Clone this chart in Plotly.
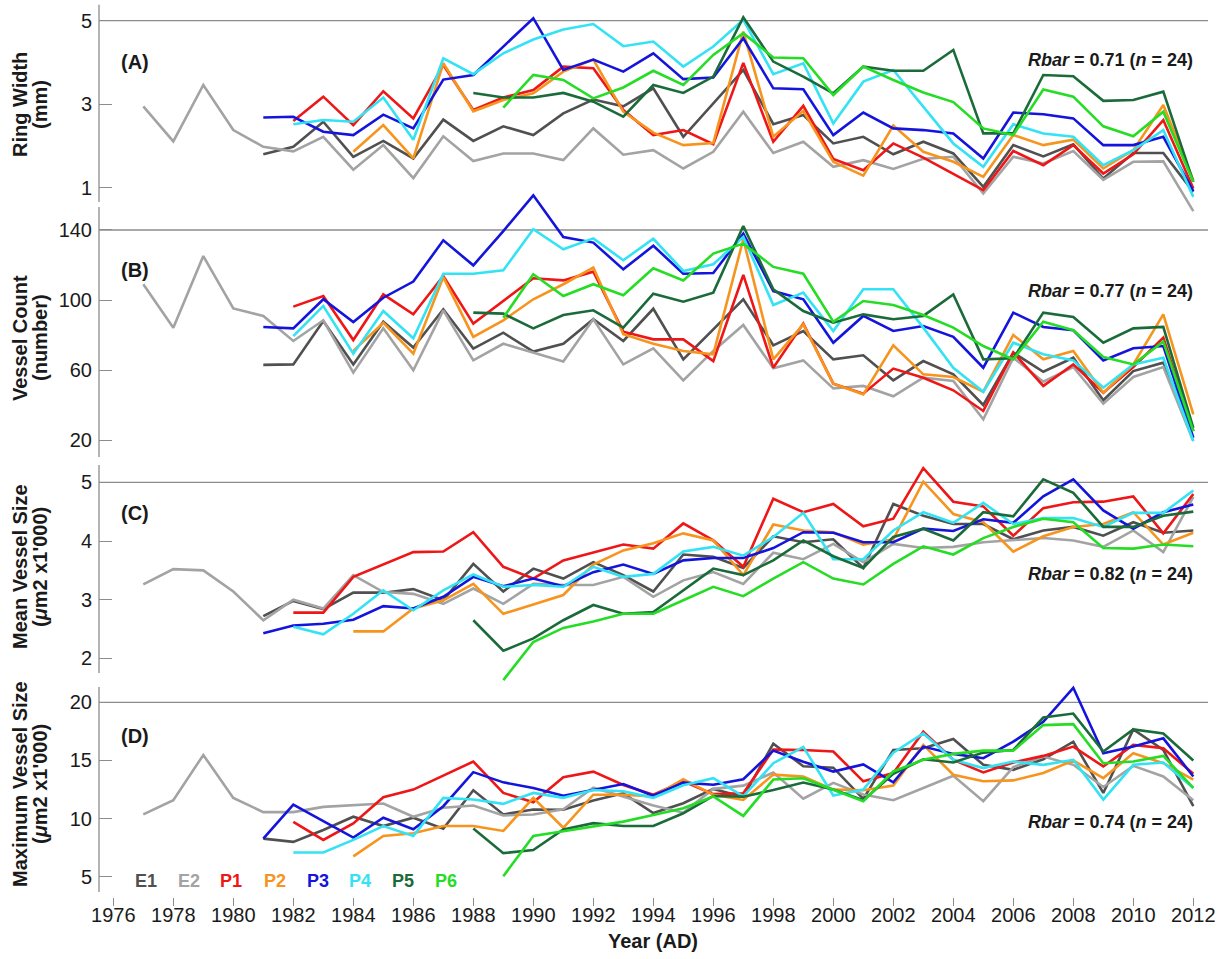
import plotly.graph_objects as go

# ---------------- data ----------------
SERIES = ["E1", "E2", "P1", "P2", "P3", "P4", "P5", "P6"]
START_YEAR = [1981, 1977, 1982, 1984, 1981, 1982, 1988, 1989]
END_YEAR = 2012
COLORS = ["#505050", "#a3a3a3", "#ee1616", "#f7941e", "#1414dc", "#33e3f3", "#1b6b3a", "#24dd24"]

PANEL_LABELS = ["(A)", "(B)", "(C)", "(D)"]
Y_TITLES = [("Ring Width", "(mm)"), ("Vessel Count", "(number)"),
            ("Mean Vessel Size", "(<i>μ</i>m2 x1'000)"), ("Maximum Vessel Size", "(<i>μ</i>m2 x1'000)")]
RBAR = [0.71, 0.77, 0.82, 0.74]
N_TREES = [24, 24, 24, 24]
Y_TICKS = [[1, 3, 5], [20, 60, 100, 140], [2, 3, 4, 5], [5, 10, 15, 20]]
X_TICKS = list(range(1976, 2013, 2))

# Panel A: ring width (mm)
A_E1 = [1.80, 1.98, 2.58, 1.74, 2.12, 1.70, 2.63, 2.12, 2.47, 2.26, 2.78, 3.11, 2.95, 3.38, 2.22, 3.02,
        3.82, 2.52, 2.74, 2.06, 2.22, 1.80, 2.10, 1.82, 1.02, 2.02, 1.75, 2.04, 1.22, 1.83, 1.83, 0.90]
A_E2 = [2.95, 2.11, 3.46, 2.38, 1.98, 1.87, 2.22, 1.43, 2.02, 1.23, 2.23, 1.64, 1.82, 1.82, 1.66, 2.42,
        1.79, 1.90, 1.46, 1.86, 2.82, 1.83, 2.10, 1.50, 1.66, 1.45, 1.69, 1.74, 0.86, 1.74, 1.58, 1.88,
        1.19, 1.62, 1.63, 0.44]
A_P1 = [2.60, 3.18, 2.50, 3.31, 2.66, 3.94, 2.86, 3.16, 3.34, 3.90, 3.86, 2.86, 2.26, 2.38, 2.04, 3.99,
        2.10, 2.96, 1.69, 1.42, 2.06, 1.72, 1.33, 0.94, 1.88, 1.54, 2.02, 1.34, 1.80, 2.62, 0.98]
A_P2 = [1.86, 2.50, 1.70, 3.98, 2.83, 3.10, 3.26, 3.78, 4.07, 2.82, 2.32, 2.02, 2.07, 4.74, 2.22, 2.84,
        1.62, 1.29, 2.49, 1.86, 1.62, 1.26, 2.26, 2.02, 2.15, 1.46, 1.90, 2.98, 1.18]
A_P3 = [2.68, 2.70, 2.34, 2.26, 2.75, 2.42, 3.59, 3.70, 4.38, 5.06, 3.82, 4.07, 3.78, 4.22, 3.60, 3.64,
        4.58, 3.38, 3.36, 2.26, 2.80, 2.42, 2.38, 2.30, 1.70, 2.80, 2.76, 2.66, 2.02, 2.02, 2.22, 0.92]
A_P4 = [2.52, 2.62, 2.58, 3.16, 2.15, 4.10, 3.72, 4.22, 4.55, 4.79, 4.92, 4.39, 4.50, 3.90, 4.38, 5.02,
        3.72, 3.98, 2.54, 3.54, 3.82, 2.94, 2.06, 1.50, 2.52, 2.30, 2.22, 1.54, 1.90, 2.38, 0.78]
A_P5 = [3.27, 3.16, 3.16, 3.27, 3.06, 2.70, 3.46, 3.27, 3.66, 5.08, 4.02, 3.66, 3.26, 3.90, 3.80, 3.80,
        4.30, 2.30, 2.30, 3.70, 3.67, 3.08, 3.10, 3.30, 1.14]
A_P6 = [2.92, 3.70, 3.58, 3.14, 3.40, 3.80, 3.46, 4.18, 4.70, 4.12, 4.10, 3.22, 3.90, 3.58, 3.28, 3.05,
        2.42, 2.26, 3.35, 3.18, 2.47, 2.23, 2.82, 1.14]

# Panel B: vessel count (number)
B_E1 = [62.9, 63.2, 88.0, 63.2, 87.6, 72.8, 94.7, 72.2, 81.3, 70.5, 75.0, 89.0, 76.6, 95.0, 66.1, 83.2,
        100.4, 74.1, 82.3, 66.1, 68.4, 54.1, 65.1, 57.5, 40.0, 69.9, 59.0, 67.0, 42.7, 59.4, 64.2, 25.1]
B_E2 = [109.0, 84.2, 125.1, 95.2, 90.9, 76.6, 88.4, 58.5, 83.8, 59.8, 94.1, 65.5, 75.0, 69.9, 64.8, 89.0,
        63.2, 72.4, 54.1, 70.9, 85.7, 61.0, 65.5, 49.5, 50.9, 45.0, 55.6, 53.7, 31.8, 67.0, 53.3, 61.7,
        40.8, 56.0, 61.7, 19.4]
B_P1 = [96.2, 102.3, 77.1, 103.2, 91.8, 113.7, 86.5, 99.4, 112.4, 111.2, 116.2, 81.9, 77.5, 77.5, 65.1,
        114.3, 61.3, 86.5, 52.2, 46.5, 60.8, 55.6, 48.4, 36.6, 70.0, 50.9, 63.2, 47.0, 61.7, 78.5, 25.1]
B_P2 = [70.9, 87.0, 69.3, 113.1, 78.9, 88.4, 100.4, 109.0, 118.5, 80.4, 75.0, 70.9, 69.0, 134.7, 66.1,
        86.1, 52.2, 46.1, 74.1, 57.5, 56.0, 47.6, 80.0, 66.1, 70.9, 47.0, 63.2, 91.8, 34.7]
B_P3 = [84.6, 83.8, 100.4, 87.4, 101.3, 110.5, 134.1, 119.8, 139.4, 159.8, 136.0, 132.8, 117.5, 131.0,
        115.0, 115.4, 137.9, 105.1, 100.4, 75.6, 90.9, 82.3, 85.1, 79.0, 61.3, 92.8, 84.6, 82.7, 65.5,
        72.4, 73.7, 21.3]
B_P4 = [79.4, 96.6, 69.3, 93.7, 78.1, 115.0, 115.0, 117.0, 140.4, 129.0, 135.2, 122.7, 135.0, 116.6,
        120.4, 136.0, 97.1, 104.2, 82.3, 106.1, 106.1, 84.2, 61.3, 47.6, 75.6, 69.0, 65.5, 49.9, 63.2,
        67.0, 19.4]
B_P5 = [92.8, 92.2, 83.8, 91.4, 94.1, 84.2, 103.6, 99.0, 104.2, 142.3, 106.1, 93.7, 87.0, 91.8, 89.0,
        90.9, 103.2, 66.1, 66.7, 92.8, 90.3, 75.6, 83.8, 84.6, 27.0]
B_P6 = [89.9, 114.7, 102.3, 109.0, 102.7, 118.1, 111.2, 126.5, 132.2, 118.9, 115.0, 87.6, 99.4, 97.1,
        91.4, 84.2, 73.7, 66.1, 87.6, 82.7, 67.4, 63.2, 76.2, 25.1]

# Panel C: mean vessel size (um2 x1000)
C_E1 = [2.72, 2.98, 2.84, 3.12, 3.12, 3.18, 2.99, 3.61, 3.14, 3.53, 3.36, 3.64, 3.42, 3.14, 3.77, 3.73,
        3.54, 4.08, 3.98, 4.03, 3.54, 4.63, 4.43, 4.29, 4.29, 4.03, 4.18, 4.24, 4.09, 4.32, 4.14, 4.18]
C_E2 = [3.26, 3.52, 3.50, 3.14, 2.65, 3.00, 2.85, 3.42, 3.13, 3.10, 2.93, 3.19, 2.93, 3.27, 3.25, 3.25,
        3.39, 3.05, 3.33, 3.47, 3.27, 3.80, 3.69, 3.95, 3.64, 3.95, 3.88, 3.90, 3.98, 4.01, 4.05, 4.01,
        3.90, 4.18, 3.81, 4.75]
C_P1 = [2.78, 2.78, 3.39, 3.60, 3.81, 3.82, 4.15, 3.56, 3.36, 3.67, 3.80, 3.94, 3.87, 4.30, 4.01, 3.56,
        4.72, 4.49, 4.63, 4.25, 4.38, 5.24, 4.67, 4.59, 4.09, 4.56, 4.66, 4.67, 4.76, 4.13, 4.80]
C_P2 = [2.46, 2.46, 2.85, 2.99, 3.27, 2.76, 2.92, 3.08, 3.60, 3.84, 3.96, 4.13, 4.01, 3.42, 4.28, 4.18,
        4.15, 3.94, 4.03, 5.01, 4.46, 4.32, 3.82, 4.08, 4.24, 4.29, 4.49, 3.94, 4.14]
C_P3 = [2.43, 2.56, 2.59, 2.66, 2.89, 2.85, 3.05, 3.39, 3.23, 3.36, 3.23, 3.47, 3.60, 3.44, 3.67, 3.71,
        3.71, 3.88, 4.15, 4.14, 3.98, 3.98, 4.21, 4.17, 4.37, 4.31, 4.76, 5.05, 4.52, 4.21, 4.49, 4.62]
C_P4 = [2.54, 2.41, 2.76, 3.16, 2.82, 3.16, 3.43, 3.22, 3.25, 3.22, 3.56, 3.39, 3.44, 3.82, 3.90, 3.75,
        4.07, 4.48, 3.69, 3.69, 4.18, 4.49, 4.31, 4.65, 4.29, 4.39, 4.39, 4.24, 4.48, 4.48, 4.86]
C_P5 = [2.65, 2.13, 2.34, 2.65, 2.91, 2.76, 2.79, 3.16, 3.53, 3.42, 3.67, 4.01, 3.74, 3.54, 4.07, 4.21,
        4.01, 4.49, 4.42, 5.05, 4.82, 4.24, 4.24, 4.43, 4.50]
C_P6 = [1.63, 2.28, 2.52, 2.63, 2.76, 2.76, 2.99, 3.22, 3.06, 3.36, 3.64, 3.36, 3.26, 3.61, 3.91, 3.77,
        4.05, 4.24, 4.38, 4.32, 3.88, 3.87, 3.94, 3.91]

# Panel D: maximum vessel size (um2 x1000)
D_E1 = [8.27, 7.99, 9.01, 10.15, 9.35, 10.07, 9.13, 12.43, 10.35, 10.78, 10.75, 11.55, 12.17, 10.47,
        11.31, 12.55, 11.86, 16.44, 14.50, 14.37, 11.69, 15.90, 16.04, 16.84, 14.62, 14.19, 15.10, 16.61,
        12.20, 17.67, 15.90, 11.06]
D_E2 = [10.35, 11.57, 15.47, 11.77, 10.55, 10.55, 11.00, 11.12, 11.29, 10.15, 10.92, 11.12, 10.26, 10.35,
        10.80, 12.65, 11.88, 11.12, 10.50, 12.55, 12.83, 13.95, 11.70, 13.07, 12.06, 11.57, 12.63, 13.68,
        11.49, 14.42, 15.33, 14.62, 12.71, 14.53, 13.62, 11.57]
D_P1 = [9.70, 8.16, 9.58, 11.83, 12.49, 13.71, 14.90, 12.20, 11.40, 13.56, 14.03, 12.88, 12.04, 13.20,
        12.10, 12.17, 15.93, 15.90, 15.76, 13.20, 13.91, 17.47, 15.05, 13.97, 14.82, 15.39, 16.19, 14.48,
        16.33, 16.04, 13.85]
D_P2 = [6.74, 8.50, 8.73, 9.35, 9.35, 8.93, 11.77, 9.20, 12.05, 12.04, 11.90, 13.38, 12.04, 11.60, 13.78,
        13.62, 12.49, 12.43, 12.83, 16.33, 13.77, 13.20, 13.28, 13.91, 14.99, 13.48, 15.62, 14.76, 13.34]
D_P3 = [8.27, 11.20, 9.78, 8.36, 10.07, 9.07, 11.06, 13.99, 13.11, 12.63, 11.96, 12.47, 12.97, 11.96,
        13.09, 12.90, 13.38, 15.84, 14.89, 14.04, 14.65, 13.11, 16.19, 15.56, 15.19, 16.61, 18.32, 21.25,
        15.62, 16.19, 16.90, 13.62]
D_P4 = [7.08, 7.08, 8.16, 9.35, 8.50, 11.77, 11.63, 11.26, 12.20, 11.78, 12.45, 12.35, 11.78, 12.86,
        13.47, 11.90, 14.76, 16.16, 11.98, 12.50, 15.67, 17.32, 15.05, 14.34, 14.90, 14.62, 15.05, 11.63,
        14.62, 14.82, 12.63]
D_P5 = [9.15, 7.02, 7.28, 9.05, 9.60, 9.36, 9.36, 10.45, 11.94, 11.88, 12.45, 13.10, 12.50, 11.57, 13.85,
        15.10, 14.82, 15.67, 15.90, 18.69, 19.03, 15.76, 17.67, 17.32, 14.99]
D_P6 = [5.03, 8.50, 8.90, 9.29, 9.73, 10.30, 10.88, 11.90, 10.22, 13.35, 13.46, 12.47, 11.49, 14.05,
        15.05, 15.56, 15.84, 15.84, 18.04, 18.12, 14.76, 14.90, 15.39, 12.63]

PANELS = [
    [A_E1, A_E2, A_P1, A_P2, A_P3, A_P4, A_P5, A_P6],
    [B_E1, B_E2, B_P1, B_P2, B_P3, B_P4, B_P5, B_P6],
    [C_E1, C_E2, C_P1, C_P2, C_P3, C_P4, C_P5, C_P6],
    [D_E1, D_E2, D_P1, D_P2, D_P3, D_P4, D_P5, D_P6],
]

# ---------------- layout geometry (pixels) ----------------
W, H = 1228, 959
ML, MR, MT, MB = 99, 20, 0, 62
PW = W - ML - MR
PH = H - MT - MB


def py(ypx):
    return (PH - (ypx - MT)) / PH


def px(xpx):
    return (xpx - ML) / PW


# clipping domains (px) and matching ranges
DOM_PX = [(2, 218), (185, 462), (455, 690), (675, 897)]
RANGES = [(0.274, 5.448), (7.43, 165.71), (1.462, 5.465), (3.244, 22.35)]
AXLINE = [(0.657, 5.38), (10.29, 153.1), (1.751, 5.295), (3.67, 21.32)]
TOPVAL = [5, 140, 5, 20]
LABEL_Y = [62, 270, 513, 736]
RBAR_Y = [60, 291, 574, 822]
TITLE_Y = [105, 338, 567, 784]

FONT = "Liberation Sans, Arial, Helvetica, sans-serif"
AXC = "#8c8c8c"
TXT = "#1a1a1a"

fig = go.Figure()

for p, panel in enumerate(PANELS):
    yname = "y" if p == 0 else f"y{p + 1}"
    for s, vals in enumerate(panel):
        years = list(range(START_YEAR[s], END_YEAR + 1))
        fig.add_trace(go.Scatter(
            x=years, y=vals, mode="lines", name=SERIES[s],
            line=dict(color=COLORS[s], width=2.6), xaxis="x", yaxis=yname,
            showlegend=False, hoverinfo="skip"))

layout = dict(
    width=W, height=H,
    margin=dict(l=ML, r=MR, t=MT, b=MB),
    paper_bgcolor="white", plot_bgcolor="rgba(0,0,0,0)",
    font=dict(family=FONT, color=TXT, size=20),
    xaxis=dict(range=[1975.523, 2012.49], domain=[0, 1], anchor="y4",
               tickvals=X_TICKS, ticks="outside", ticklen=8, tickwidth=1.2, tickcolor=AXC,
               showline=False, showgrid=False, zeroline=False,
               tickfont=dict(size=20, color=TXT), ticklabelstandoff=-8),
)

shapes = []
annotations = []
for p in range(4):
    key = "yaxis" if p == 0 else f"yaxis{p + 1}"
    yref = "y" if p == 0 else f"y{p + 1}"
    top_px, bot_px = DOM_PX[p]
    layout[key] = dict(
        domain=[py(bot_px), py(top_px)], range=list(RANGES[p]), anchor="x",
        tickvals=Y_TICKS[p], ticks="inside", ticklen=13, tickwidth=1.2, tickcolor=AXC,
        showline=False, showgrid=False, zeroline=False,
        tickfont=dict(size=20, color=TXT), ticklabelstandoff=6)
    # vertical axis segment
    shapes.append(dict(type="line", xref="paper", yref=yref, x0=0, x1=0,
                       y0=AXLINE[p][0], y1=AXLINE[p][1], line=dict(color=AXC, width=1.3), layer="below"))
    # top frame line
    shapes.append(dict(type="line", xref="paper", yref=yref, x0=0, x1=1,
                       y0=TOPVAL[p], y1=TOPVAL[p], line=dict(color=AXC, width=1.3), layer="below"))
    # panel label
    annotations.append(dict(xref="paper", yref="paper", x=px(119), y=py(LABEL_Y[p]),
                            xanchor="left", yanchor="middle", showarrow=False,
                            text=f"<b>{PANEL_LABELS[p]}</b>", font=dict(size=20, color=TXT)))
    # Rbar
    annotations.append(dict(xref="paper", yref="paper", x=px(1195), y=py(RBAR_Y[p]),
                            xanchor="right", yanchor="middle", showarrow=False,
                            text=f"<b><i>Rbar</i> = {RBAR[p]:.2f} (<i>n</i> = {N_TREES[p]})</b>",
                            font=dict(size=18, color=TXT)))
    # y titles (two lines)
    for line_txt, xx in zip(Y_TITLES[p], (20, 40)):
        annotations.append(dict(xref="paper", yref="paper", x=px(xx), y=py(TITLE_Y[p]),
                                xanchor="center", yanchor="middle", showarrow=False, textangle=-90,
                                text=f"<b>{line_txt}</b>", font=dict(size=20, color=TXT)))

# legend as coloured labels
LEG_X = [146, 189, 231, 275, 318, 360, 403, 446]
for s, name in enumerate(SERIES):
    annotations.append(dict(xref="paper", yref="paper", x=px(LEG_X[s]), y=py(881),
                            xanchor="center", yanchor="middle", showarrow=False,
                            text=f"<b>{name}</b>", font=dict(size=18, color=COLORS[s])))

annotations.append(dict(xref="paper", yref="paper", x=px(653), y=py(941),
                        xanchor="center", yanchor="middle", showarrow=False,
                        text="<b>Year (AD)</b>", font=dict(size=20, color=TXT)))

layout["shapes"] = shapes
layout["annotations"] = annotations
fig.update_layout(**layout)
fig.write_html("out.html")
